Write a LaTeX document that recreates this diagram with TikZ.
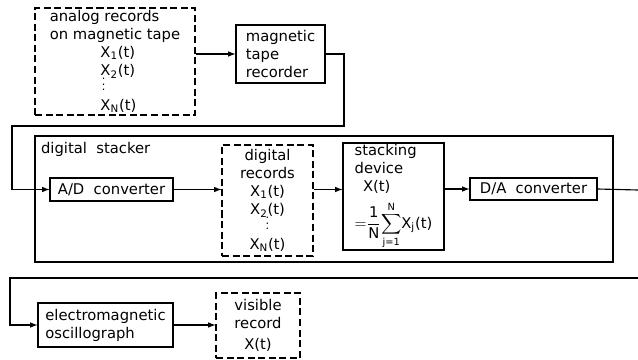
\documentclass[tikz,border=0pt]{standalone}
\usepackage{fontspec}
\setmainfont{DejaVu Sans}
\setsansfont{DejaVu Sans}
\newcommand{\Xs}[1]{X\textsubscript{#1}(t)}
\newcommand{\vd}{\raisebox{1pt}[5pt][0pt]{\footnotesize$\vdots$}}
\begin{document}
\begin{tikzpicture}[>=latex, x=0.025cm, y=-0.025cm,
        font=\fontsize{10.5}{12.8}\selectfont,
        box/.style={draw, line width=0.8pt, inner sep=0pt, align=left},
        dbox/.style={box, dash pattern=on 5pt off 2.5pt},
        conn/.style={line width=0.8pt}]
        \useasboundingbox (0,0) rectangle (638,360);

        % first row: tape
        \node[dbox, minimum width=4cm, minimum height=2.675cm] (analog) at (115,61.5)
            {analog records\\on magnetic tape\\\hspace*{36pt}\Xs{1}\\\hspace*{36pt}\Xs{2}\\[-1pt]\hspace*{37pt}\vd\\\hspace*{36pt}\Xs{N}};
        \node[box, minimum width=2.225cm, minimum height=1.45cm] (recorder) at (280.5,54)
            {magnetic\\tape\\recorder};

        % digital stacker
        \node[box, line width=1.6pt, minimum width=14.45cm, minimum height=3.15cm] (stacker) at (324,199) {};
        \node[anchor=north west, inner sep=0pt] (stlabel) at ([shift={(7,7)}]stacker.north west) {digital\ \ stacker};
        \node[box, minimum width=3.075cm, minimum height=0.575cm] (ad) at (111.5,189.5) {A/D\ \ converter};
        \node[dbox, align=center, minimum width=2.275cm, minimum height=2.775cm] (digrec) at (267.5,200.5)
            {digital\\records\\\Xs{1}\\\Xs{2}\\[-1pt]\vd\\\Xs{N}};
        \node[box, minimum width=2.525cm, minimum height=2.675cm] (stackdev) at (393.5,196.5)
            {stacking\\device\\\hspace*{6pt}X(t)\\[5pt]${=}\displaystyle\frac{\mbox{1}}{\mbox{N}}\!\sum_{\mbox{\scriptsize j=1}}^{\mbox{\scriptsize N}}$\Xs{j}};
        \node[box, minimum width=3.175cm, minimum height=0.55cm] (da) at (533.5,189) {D/A\ \ converter};

        % last row: output
        \node[box, minimum width=3.375cm, minimum height=1.1cm] (osc) at (105.5,325)
            {electromagnetic\\oscillograph};
        \node[dbox, align=center, minimum width=2.1cm, minimum height=1.625cm] (visrec) at (258,325.5)
            {visible\\record\\[2pt]X(t)};

        \coordinate (out) at (638,190);
        \coordinate (in) at (638,278);

        \draw[->, conn] (analog.east |- recorder.west) -- (recorder.west);
        \draw[->, conn] (recorder.east) -| (344,126) -- (12,126) |- (ad.west);
        \draw[->, conn] (ad.east) -- (digrec.west |- ad.east);
        \draw[->, conn] (digrec.east |- ad.east) -- (stackdev.west |- ad.east);
        \draw[->, conn] (stackdev.east |- da.west) -- (da.west);
        \draw[conn] (da.east) -- (out);
        \draw[->, conn] (in) -- (10,278) |- (osc.west);
        \draw[->, conn] (osc.east) -- (visrec.west |- osc.east);
    \end{tikzpicture}
\end{document}
